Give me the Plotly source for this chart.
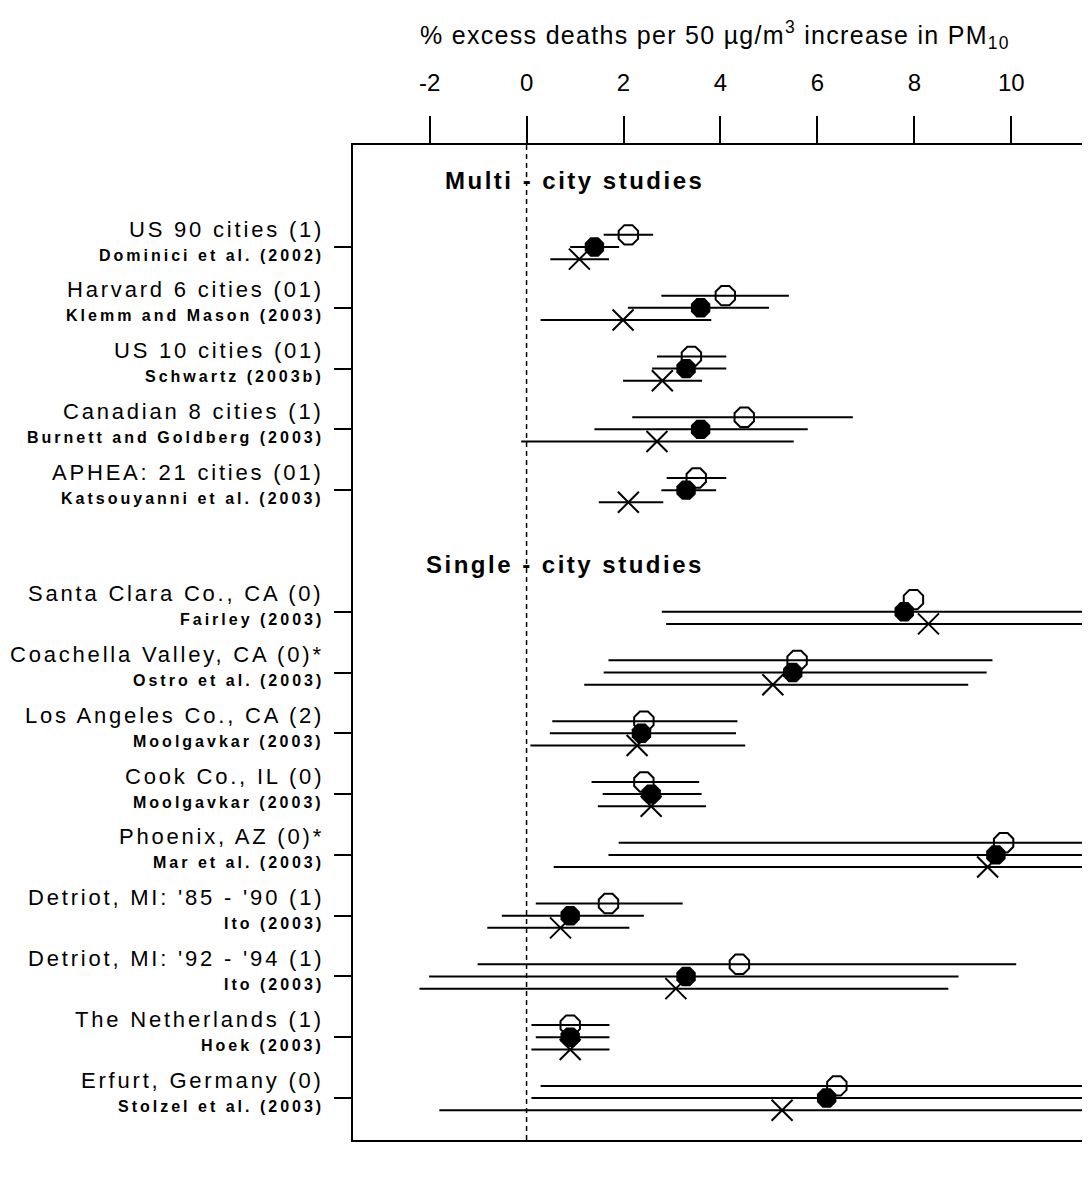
import plotly.graph_objects as go

# ---------------- data ----------------
studies = ["US 90 cities (1)", "Harvard 6 cities (01)", "US 10 cities (01)",
           "Canadian 8 cities (1)", "APHEA: 21 cities (01)",
           "Santa Clara Co., CA (0)", "Coachella Valley, CA (0)*",
           "Los Angeles Co., CA (2)", "Cook Co., IL (0)", "Phoenix, AZ (0)*",
           "Detriot, MI: '85 - '90 (1)", "Detriot, MI: '92 - '94 (1)",
           "The Netherlands (1)", "Erfurt, Germany (0)"]
authors = ["Dominici et al. (2002)", "Klemm and Mason (2003)", "Schwartz (2003b)",
           "Burnett and Goldberg (2003)", "Katsouyanni et al. (2003)",
           "Fairley (2003)", "Ostro et al. (2003)", "Moolgavkar (2003)",
           "Moolgavkar (2003)", "Mar et al. (2003)", "Ito (2003)", "Ito (2003)",
           "Hoek (2003)", "Stolzel et al. (2003)"]
row_pos = [1, 2, 3, 4, 5, 7, 8, 9, 10, 11, 12, 13, 14, 15]

open_est = [2.10, 4.10, 3.40, 4.49, 3.50, 7.98, 5.58, 2.42, 2.42, 9.84, 1.69, 4.39, 0.90, 6.40]
open_lo = [1.59, 2.78, 2.69, 2.18, 2.89, None, 1.69, 0.53, 1.34, 1.90, 0.19, -1.01, 0.10, 0.29]
open_hi = [2.61, 5.41, 4.12, 6.73, 4.12, None, 9.61, 4.35, 3.56, 12.5, 3.22, 10.10, 1.71, 12.5]

filled_est = [1.40, 3.59, 3.29, 3.59, 3.29, 7.79, 5.49, 2.37, 2.57, 9.68, 0.90, 3.29, 0.90, 6.19]
filled_lo = [0.90, 2.09, 2.59, 1.40, 2.78, 2.79, 1.59, 0.48, 1.57, 1.69, -0.51, -2.01, 0.19, 0.10]
filled_hi = [1.91, 5.00, 4.12, 5.80, 3.91, 12.5, 9.49, 4.32, 3.61, 12.5, 2.42, 8.91, 1.71, 12.5]

cross_est = [1.09, 1.99, 2.80, 2.69, 2.10, 8.29, 5.08, 2.28, 2.57, 9.51, 0.70, 3.08, 0.90, 5.27]
cross_lo = [0.49, 0.29, 1.99, -0.11, 1.49, 2.88, 1.19, 0.08, 1.47, 0.56, -0.81, -2.21, 0.10, -1.80]
cross_hi = [1.70, 3.81, 3.62, 5.51, 2.82, 12.5, 9.11, 4.51, 3.70, 12.5, 2.12, 8.70, 1.71, 12.5]

tick_vals = [-2, 0, 2, 4, 6, 8, 10]
headers = ["Multi - city studies", "Single - city studies"]
header_pos = [-0.10, 6.23]

x_range = [-3.58, 11.56]
y_range = [15.69, -0.678]

FONT = "Liberation Sans, Arial, sans-serif"

fig = go.Figure()

series = [
    (open_est, open_lo, open_hi, -0.2, dict(symbol="octagon-open", size=21, color="black",
                                             line=dict(color="black", width=2))),
    (filled_est, filled_lo, filled_hi, 0.0, dict(symbol="octagon", size=21, color="black",
                                                  line=dict(color="black", width=0))),
    (cross_est, cross_lo, cross_hi, 0.2, dict(symbol="x-thin-open", size=21, color="black",
                                               line=dict(color="black", width=2))),
]

for est, lo, hi, off, mk in series:
    lx, ly = [], []
    for l, h, r in zip(lo, hi, row_pos):
        if l is None or h is None:
            continue
        lx += [l, h, None]
        ly += [r + off, r + off, None]
    fig.add_trace(go.Scatter(x=lx, y=ly, mode="lines",
                             line=dict(color="black", width=2),
                             hoverinfo="skip", showlegend=False))
    fig.add_trace(go.Scatter(x=est, y=[r + off for r in row_pos], mode="markers",
                             marker=mk, showlegend=False, cliponaxis=True))

# zero reference line
fig.add_shape(type="line", xref="x", yref="paper", x0=0, x1=0, y0=0, y1=1,
              line=dict(color="black", width=1.5, dash="5px,4px"), layer="below")

annotations = []
for s, a, r in zip(studies, authors, row_pos):
    annotations.append(dict(
        xref="paper", yref="y", x=-0.037, y=r, xanchor="right", yanchor="middle",
        text="<span style='letter-spacing:2.8px'>%s</span>" % s,
        showarrow=False, yshift=18, font=dict(family=FONT, size=22, color="black")))
    annotations.append(dict(
        xref="paper", yref="y", x=-0.037, y=r, xanchor="right", yanchor="middle",
        text="<b><span style='letter-spacing:3px'>%s</span></b>" % a,
        showarrow=False, yshift=-8, font=dict(family=FONT, size=16, color="black")))

for h, p in zip(headers, header_pos):
    annotations.append(dict(
        xref="x", yref="y", x=3.7, y=p, xanchor="right", yanchor="middle",
        text="<b><span style='letter-spacing:2.5px'>%s</span></b>" % h,
        showarrow=False, font=dict(family=FONT, size=24, color="black")))

annotations.append(dict(
    xref="paper", yref="paper", x=0.493, y=1.1106, xanchor="center", yanchor="middle",
    text="<span style='letter-spacing:1.3px'>% excess deaths per 50 \u00b5g/m<sup>3</sup> increase in PM<sub>10</sub></span>",
    showarrow=False, font=dict(family=FONT, size=25, color="black")))

fig.update_layout(
    width=1082, height=1182,
    margin=dict(l=345, r=1, t=137, b=50),
    paper_bgcolor="white", plot_bgcolor="white",
    annotations=annotations,
    xaxis=dict(range=x_range, side="top", tickvals=tick_vals,
               ticktext=[str(v) for v in tick_vals],
               ticks="outside", ticklen=27, tickwidth=2, tickcolor="black",
               ticklabelstandoff=15,
               showline=True, linewidth=2, linecolor="black", mirror=True,
               showgrid=False, zeroline=False,
               tickfont=dict(family=FONT, size=24, color="black")),
    yaxis=dict(range=y_range, tickvals=row_pos, showticklabels=False,
               ticks="outside", ticklen=17, tickwidth=2, tickcolor="black",
               showline=True, linewidth=2, linecolor="black", mirror=True,
               showgrid=False, zeroline=False),
)

fig.write_html("out.html")
